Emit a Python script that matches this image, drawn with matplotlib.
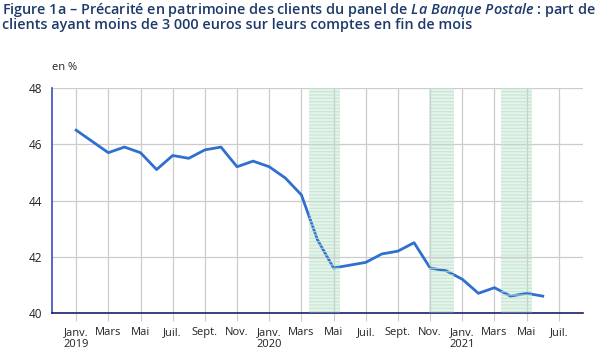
import numpy as np
import matplotlib.pyplot as plt

# monthly values, Jan 2019 -> Jun 2021 (en %)
months = np.arange(30)
share = [46.5, 46.1, 45.7, 45.9, 45.7, 45.1, 45.6, 45.5, 45.8, 45.9, 45.2, 45.4,
         45.2, 44.8, 44.2, 42.6, 41.6, 41.7, 41.8, 42.1, 42.2, 42.5, 41.6, 41.5,
         41.2, 40.7, 40.9, 40.6, 40.7, 40.6]

tick_pos = np.arange(0, 31, 2)
tick_labels = ['Janv.\n2019', 'Mars', 'Mai', 'Juil.', 'Sept.', 'Nov.',
               'Janv.\n2020', 'Mars', 'Mai', 'Juil.', 'Sept.', 'Nov.',
               'Janv.\n2021', 'Mars', 'Mai', 'Juil.']

# confinement periods (month index)
lockdowns = [(14.5, 16.4), (21.9, 23.5), (26.4, 28.3)]

plt.rcParams['font.family'] = ['Open Sans', 'DejaVu Sans']
plt.rcParams['mathtext.fontset'] = 'custom'
plt.rcParams['mathtext.it'] = 'Open Sans:italic:semibold'
plt.rcParams['mathtext.rm'] = 'Open Sans:semibold'

fig = plt.figure(figsize=(6.04, 3.61), dpi=100)
ax = fig.add_axes([52/604, 1 - 313/361, (583-52)/604, (313-88)/361])

for a, b in lockdowns:
    ax.axvspan(a, b, facecolor='#e6f4ec', edgecolor='none', zorder=0)
    ax.axvspan(a, b, facecolor='none', edgecolor='#bfe3cd', hatch='-----',
               linewidth=0, zorder=3, alpha=0.7)

ax.plot(months, share, color='#2f6fd0', lw=2, zorder=2)

ax.set_xlim(-1.5, 31.5)
ax.set_ylim(40, 48)
ax.set_yticks([40, 42, 44, 46, 48])
ax.set_xticks(tick_pos)
ax.set_xticklabels(tick_labels, fontsize=8, color='#222222')
ax.tick_params(axis='x', length=6, color='#cccccc', pad=4)
ax.tick_params(axis='y', length=0, pad=7, labelsize=8.5, labelcolor='#222222')

ax.grid(True, color='#cccccc', lw=0.9, zorder=1)
ax.set_axisbelow(True)
for s in ['top', 'right']:
    ax.spines[s].set_visible(False)
ax.spines['left'].set_color('#3b4cc0')
ax.spines['bottom'].set_color('#1a1f6e')
ax.spines['left'].set_linewidth(1.2)
ax.spines['bottom'].set_linewidth(1.2)

fig.text(52/604, 1 - 68/361, 'en %', fontsize=8, color='#222222', va='center')

fig.text(2/604, 1 - 1/361,
         'Figure 1a – Précarité en patrimoine des clients du panel de $\\it{La\\ Banque\\ Postale}$ : part de\n'
         'clients ayant moins de 3 000 euros sur leurs comptes en fin de mois',
         fontsize=10.4, fontweight='semibold', color='#1d3a6b', va='top', linespacing=0.95)

fig.savefig('out.png', dpi=100)
